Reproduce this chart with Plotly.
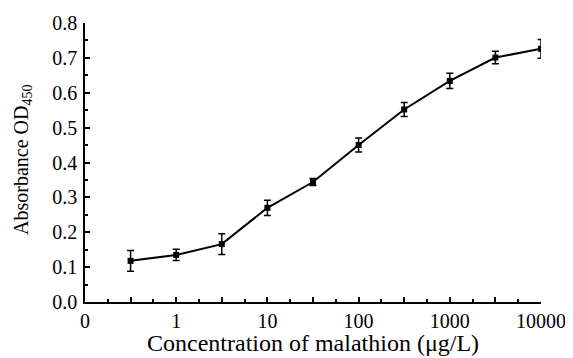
import plotly.graph_objects as go

concentration = [0.316, 1, 3.16, 10, 31.6, 100, 316, 1000, 3162, 10000]
absorbance = [0.118, 0.135, 0.166, 0.270, 0.344, 0.450, 0.552, 0.634, 0.701, 0.726]
error = [0.030, 0.016, 0.030, 0.022, 0.010, 0.020, 0.020, 0.022, 0.018, 0.027]

x_tick_vals = [0.1, 0.316, 1, 3.16, 10, 31.6, 100, 316, 1000, 3162, 10000]
x_tick_text = ["0", " ", "1", " ", "10", " ", "100", " ", "1000", " ", "10000"]
x_minor_vals = [10 ** (-0.75 + 0.5 * k) for k in range(10)]
y_tick_vals = [0.0, 0.1, 0.2, 0.3, 0.4, 0.5, 0.6, 0.7, 0.8]
y_tick_text = ["0.0", "0.1", "0.2", "0.3", "0.4", "0.5", "0.6", "0.7", "0.8"]

font = "Liberation Serif, Times New Roman, serif"

fig = go.Figure()
fig.add_trace(go.Scatter(
    x=concentration, y=absorbance,
    mode="lines+markers",
    line=dict(color="black", width=2),
    marker=dict(symbol="square", size=6, color="black"),
    error_y=dict(type="data", array=error, visible=True, color="black", thickness=1.5, width=3.5),
    showlegend=False,
))

fig.update_layout(
    width=565, height=350,
    margin=dict(l=77, r=32, t=15, b=56),
    paper_bgcolor="white", plot_bgcolor="white",
    font=dict(family=font, size=20, color="black"),
    xaxis=dict(
        type="log", range=[-1, 4], automargin=False,
        tickmode="array", tickvals=x_tick_vals, ticktext=x_tick_text,
        ticks="inside", ticklen=5, tickwidth=1.5, tickcolor="black",
        minor=dict(tickmode="array", tickvals=x_minor_vals, ticks="inside", ticklen=3, tickwidth=1.5, tickcolor="black"),
        showline=True, linecolor="black", linewidth=1.5,
        showgrid=False, zeroline=False,
        tickfont=dict(family=font, size=20),
        ticklabelstandoff=0,
    ),
    yaxis=dict(
        range=[0, 0.8], automargin=False,
        tickmode="array", tickvals=y_tick_vals, ticktext=y_tick_text,
        ticks="inside", ticklen=5, tickwidth=1.5, tickcolor="black",
        minor=dict(dtick=0.05, ticks="inside", ticklen=3, tickwidth=1.5, tickcolor="black"),
        showline=True, linecolor="black", linewidth=1.5,
        showgrid=False, zeroline=False,
        tickfont=dict(family=font, size=20),
        ticklabelstandoff=2,
    ),
)

fig.add_annotation(
    xref="paper", yref="paper",
    x=-0.136, y=0.509, xanchor="center", yanchor="middle",
    text="Absorbance OD<sub>450</sub>", textangle=-90, showarrow=False,
    font=dict(family=font, size=20, color="black"),
)
fig.add_annotation(
    xref="paper", yref="paper",
    x=0.5, y=-0.148, xanchor="center", yanchor="middle",
    text="Concentration of malathion (μg/L)", showarrow=False,
    font=dict(family=font, size=24, color="black"),
)

fig.write_html("out.html")
